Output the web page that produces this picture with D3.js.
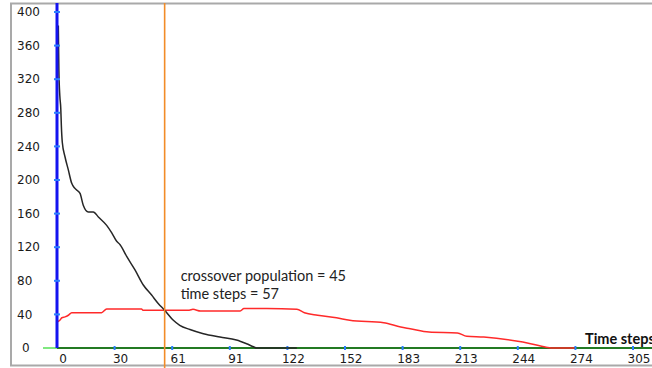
<!DOCTYPE html>
<html>
<head>
<meta charset="utf-8">
<script src="https://cdn.jsdelivr.net/npm/d3@7"></script>
<style>
body{margin:0;background:#fff;}
svg{display:block;}
</style>
</head>
<body>
<svg id="chart" width="652" height="368"></svg>
<script>
// values
var yTicks = [0,40,80,120,160,200,240,280,320,360,400];
var xTicks = [0,30.5,61,91.5,122,152.5,183,213.5,244,274.5,305];

var blackSteps = [0.7,1,1.5,2,2.3,2.8,4.2,6,7.8,9.5,12.2,13.9,16.6,19.2,21.9,26.3,29,31.6,33.4,36.9,41.3,45.7,50.1,53.6,57,61.6,65,70.4,77.5,86.3,95,100.4,104,105.7,127];
var blackPop   = [384,330,300,285,265,245,228,212,196,190,184,170,162,162,156,146,137,127,123,109,93,75,63,53,45,33,27,22,17,13,9.5,5,1.5,0,0];

var redSteps = [0,1.5,2.6,4.2,6,7.8,23.6,26.3,44.8,45.5,58,70,72,76,97,99,111,127,131,138,148,155,173,182,187,197,212,217,226,244,249,259,263,274];
var redPop   = [31,33,36,37,39,42,42,46.5,46.5,45,45,45,46,44,44,47,47,46,42,39,36,33,30,25,23,19,18,14,13,8,6,1,0,0];

var crossStep = 57, crossPop = 45;

var svg = d3.select('#chart');
var x = d3.scaleLinear().domain([0,305]).range([57,633]);
var y = d3.scaleLinear().domain([0,400]).range([348,12]);

// outer frame
svg.append('rect')
	.attr('x',11).attr('y',3.5)
	.attr('width',700).attr('height',362)
	.attr('fill','none')
	.attr('stroke','#a9a9a9')
	.attr('stroke-width',2);

// y tick labels
svg.selectAll('.ylab')
	.data(yTicks)
	.enter()
	.append('text')
	.attr('class','ylab')
	.attr('x',function(d){ return d==0 ? 22 : 17; })
	.attr('y',function(d){ return y(d); })
	.attr('dy','0.35em')
	.style('font-family','DejaVu Sans, Verdana, sans-serif')
	.style('font-size','12px')
	.style('fill','#1a1a1a')
	.text(function(d){ return d; });

// x tick labels
svg.selectAll('.xlab')
	.data(xTicks)
	.enter()
	.append('text')
	.attr('class','xlab')
	.attr('x',function(d){ return x(d)+6; })
	.attr('y',363)
	.attr('text-anchor','middle')
	.style('font-family','DejaVu Sans, Verdana, sans-serif')
	.style('font-size','12px')
	.style('fill','#1a1a1a')
	.text(function(d){ return Math.floor(d); });

// x axis line
svg.append('line')
	.attr('x1',43).attr('x2',x(0))
	.attr('y1',y(0)).attr('y2',y(0))
	.attr('stroke','#80e880').attr('stroke-width',2);
svg.append('line')
	.attr('x1',x(0)).attr('x2',652)
	.attr('y1',y(0)).attr('y2',y(0))
	.attr('stroke','#237a23').attr('stroke-width',2.2);

// x ticks
svg.selectAll('.xtick')
	.data(xTicks.slice(1))
	.enter()
	.append('line')
	.attr('x1',function(d){ return x(d); })
	.attr('x2',function(d){ return x(d); })
	.attr('y1',y(0)-2).attr('y2',y(0)+2)
	.attr('stroke','#2a7fff').attr('stroke-width',2);

// lines
var line = d3.line()
	.curve(d3.curveMonotoneX)
	.x(function(d){ return x(d[0]); })
	.y(function(d){ return y(d[1]); });

svg.append('path')
	.datum(d3.zip(redSteps,redPop))
	.attr('d',line)
	.attr('fill','none')
	.attr('stroke','#ff2a2a')
	.attr('stroke-width',1.5);

svg.append('path')
	.datum(d3.zip(blackSteps,blackPop))
	.attr('d',line)
	.attr('fill','none')
	.attr('stroke','#262626')
	.attr('stroke-width',1.5);

// y axis
svg.append('line')
	.attr('x1',x(0)).attr('x2',x(0))
	.attr('y1',3).attr('y2',y(0))
	.attr('stroke','#1414f0').attr('stroke-width',3);
svg.selectAll('.ytick')
	.data(yTicks.slice(1))
	.enter()
	.append('line')
	.attr('x1',x(0)-3).attr('x2',x(0)+3)
	.attr('y1',function(d){ return y(d); })
	.attr('y2',function(d){ return y(d); })
	.attr('stroke','#2a7fff').attr('stroke-width',2);

// crossover marker
svg.append('line')
	.attr('x1',x(crossStep)).attr('x2',x(crossStep))
	.attr('y1',3).attr('y2',368)
	.attr('stroke','#f28c28').attr('stroke-width',1.6);

var note = svg.append('text')
	.attr('y',281)
	.style('font-family','Lato, Open Sans, sans-serif')
	.style('font-size','14.5px')
	.style('fill','#222');
note.append('tspan').attr('x',x(crossStep)+16).attr('dy',0).text('crossover population = '+crossPop);
note.append('tspan').attr('x',x(crossStep)+16).attr('dy',18).text('time steps = '+crossStep);

svg.append('text')
	.attr('x',585).attr('y',344)
	.style('font-family','Lato, Open Sans, sans-serif')
	.style('font-size','14.5px')
	.style('font-weight','bold')
	.style('fill','#111')
	.text('Time steps');
</script>
</body>
</html>
